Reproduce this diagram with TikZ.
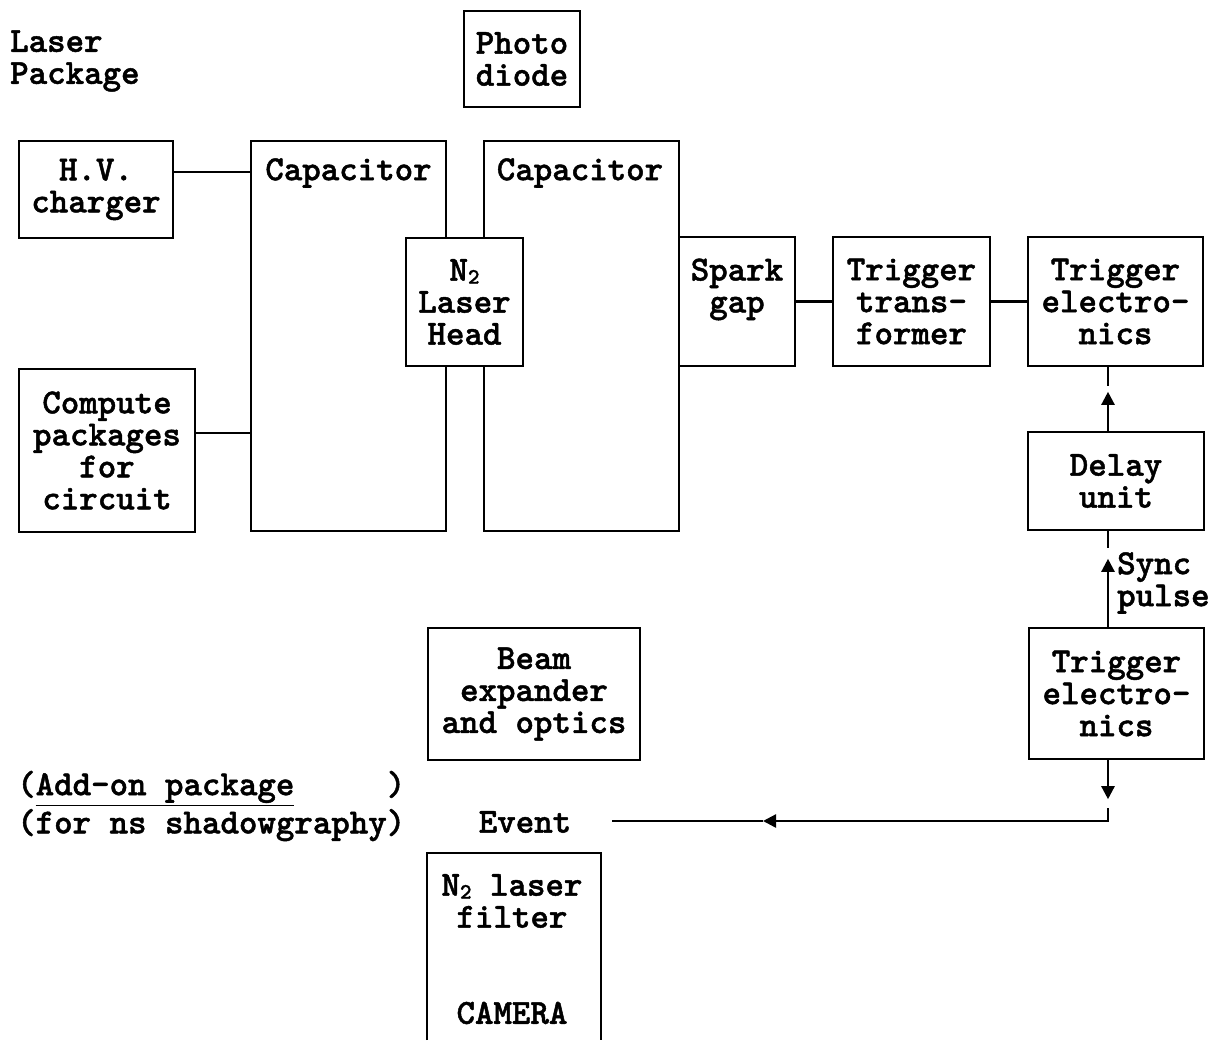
\documentclass[tikz,border=0pt]{standalone}
\usepackage{fontspec}
\newfontfamily\twfont{lmmonolt10-bold}[Extension=.otf,FakeBold=1.3]
\usepackage{tikz}
\usetikzlibrary{arrows.meta,positioning}
\newcommand{\tw}{\twfont\fontsize{17.6pt}{16pt}\selectfont}
\newcommand{\sub}{\raisebox{-1.5pt}{\fontsize{11pt}{11pt}\selectfont 2}}
\tikzset{
  txt/.style = {align=center, inner sep=0pt, font=\tw},
  txt_l/.style = {txt, align=left, anchor=west},% free text, left
  blk/.style = {txt, rectangle, draw=black},% box
  blk_w/.style = {blk, fill=white}% box on top of others
}

\begin{document}
\begin{tikzpicture}[x=0.5pt,y=-0.5pt,line width=1.2pt,
  >={Triangle[length=6.5pt,width=6.5pt]}]
\useasboundingbox (0,0) rectangle (1222,1040);

\node [txt_l](lp) at (9,61) {Laser\\Package};
\node [blk, minimum width=58pt, minimum height=48pt](photo) at (522,59) {Photo\\diode};
\node [blk, minimum width=77pt, minimum height=48.5pt](hv) at (96,189.5) {H.V.\\charger};
\node [blk, minimum width=88pt, minimum height=81.5pt](comp) at (107,450.5)
  {Compute\\packages\\for\\circuit};

\node [blk, minimum width=97.5pt, minimum height=195pt](cap1) at (348.5,336) {};
\node [txt](cap1t) at (348.5,173) {Capacitor};
\node [blk, minimum width=97.5pt, minimum height=195pt](cap2) at (581.5,336) {};
\node [txt](cap2t) at (580,173) {Capacitor};
\node [blk_w, minimum width=58.5pt, minimum height=64pt](head) at (464.5,302)
  {N\sub\\Laser\\Head};

\node [blk, minimum width=58pt, minimum height=64.5pt](spark) at (737,301.5) {Spark\\gap\\\mbox{}};
\node [blk, minimum width=78.5pt, minimum height=64.5pt](trans) at (911.5,301.5)
  {Trigger\\trans-\\former};
\node [blk, minimum width=87.5pt, minimum height=64.5pt](trig1) at (1115.5,301.5)
  {Trigger\\electro-\\nics};
\node [blk, minimum width=88pt, minimum height=49pt](delay) at (1116,481) {Delay\\unit};
\node [txt_l](sync) at (1116,583) {Sync\\pulse};
\node [blk, minimum width=87.5pt, minimum height=65.5pt](trig2) at (1116.5,693.5)
  {Trigger\\electro-\\nics};

\node [blk, minimum width=106pt, minimum height=66pt](beam) at (534,694)
  {Beam\\expander\\and optics};
\node [txt_l](addon) at (16,806)
  {(\underline{Add-on package}\hphantom{xxxxx})\\(for ns shadowgraphy)};
\node [txt](ev) at (525,822) {Event};

% camera, open at the bottom
\draw (427,1040) -- (427,853) -- (601,853) -- (601,1040);
\node [txt](filt) at (512,901) {N\sub\ laser\\filter};
\node [txt](cam) at (512,1013) {CAMERA};

% connections
\coordinate (sx) at (1108,0);
\coordinate (tipL) at (763,821);
\coordinate (evR) at (612,821);
\draw ([yshift=8.75pt]hv.east) -- ([yshift=8.75pt]hv.east -| cap1.west);
\draw ([yshift=8.75pt]comp.east) -- ([yshift=8.75pt]comp.east -| cap1.west);
\draw (spark.east) -- (trans.west);
\draw (trans.east) -- (trig1.west);
\draw (trig1.south -| sx) -- ++(0,19);
\draw [->] (delay.north -| sx) -- ++(0,-39);
\draw (delay.south -| sx) -- ++(0,17);
\draw [->] (trig2.north -| sx) -- ++(0,-68);
\draw [->] (trig2.south -| sx) -- ++(0,39);
\draw [->] (trig2.south -| sx) ++(0,48) |- (tipL);
\draw (tipL) -- (evR);
\end{tikzpicture}
\end{document}
